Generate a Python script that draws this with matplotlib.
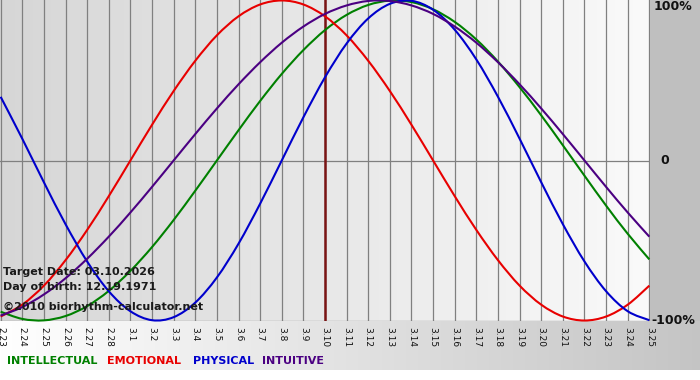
import numpy as np
import matplotlib
matplotlib.use("Agg")
import matplotlib.pyplot as plt
from matplotlib.path import Path
from matplotlib.patches import PathPatch

# days shown on the chart
days = ["2.23", "2.24", "2.25", "2.26", "2.27", "2.28",
        "3.1", "3.2", "3.3", "3.4", "3.5", "3.6", "3.7", "3.8", "3.9", "3.10",
        "3.11", "3.12", "3.13", "3.14", "3.15", "3.16", "3.17", "3.18", "3.19",
        "3.20", "3.21", "3.22", "3.23", "3.24", "3.25"]
target_day = "3.10"

# values, -1 .. 1
intellectual = [-0.945, -0.990, -0.999, -0.972, -0.910, -0.815, -0.690, -0.541, -0.372, -0.189,
                0.000, 0.189, 0.372, 0.541, 0.690, 0.815, 0.910, 0.972, 0.999, 0.990,
                0.945, 0.866, 0.756, 0.618, 0.458, 0.282, 0.095, -0.095, -0.282, -0.458, -0.618]
emotional = [-0.975, -0.901, -0.782, -0.623, -0.434, -0.223, 0.000, 0.223, 0.434, 0.623,
             0.782, 0.901, 0.975, 1.000, 0.975, 0.901, 0.782, 0.623, 0.434, 0.223,
             0.000, -0.223, -0.434, -0.623, -0.782, -0.901, -0.975, -1.000, -0.975, -0.901, -0.782]
physical = [0.398, 0.136, -0.136, -0.398, -0.631, -0.817, -0.942, -0.998, -0.979, -0.888,
            -0.731, -0.520, -0.270, 0.000, 0.270, 0.520, 0.731, 0.888, 0.979, 0.998,
            0.942, 0.817, 0.631, 0.398, 0.136, -0.136, -0.398, -0.631, -0.817, -0.942, -0.998]
intuitive = [-0.969, -0.916, -0.837, -0.736, -0.614, -0.476, -0.325, -0.165, 0.000, 0.165,
             0.325, 0.476, 0.614, 0.736, 0.837, 0.916, 0.969, 0.997, 0.997, 0.969,
             0.916, 0.837, 0.736, 0.614, 0.476, 0.325, 0.165, 0.000, -0.165, -0.325, -0.476]

series = [("INTELLECTUAL", intellectual, "#008000"),
          ("EMOTIONAL", emotional, "#e80000"),
          ("PHYSICAL", physical, "#0000cc"),
          ("INTUITIVE", intuitive, "#4b0082")]


def smooth_path(xs, ys):
    """Catmull-Rom style bezier path through the points (curve drawn smooth)"""
    pts = np.column_stack([xs, ys]).astype(float)
    verts = [pts[0]]
    codes = [Path.MOVETO]
    n = len(pts)
    for i in range(n - 1):
        p0 = pts[i - 1] if i > 0 else pts[i]
        p1, p2 = pts[i], pts[i + 1]
        p3 = pts[i + 2] if i + 2 < n else pts[i + 1]
        verts += [p1 + (p2 - p0) / 6, p2 - (p3 - p1) / 6, p2]
        codes += [Path.CURVE4] * 3
    return Path(verts, codes)


W, H = 700, 380
fig = plt.figure(figsize=(W / 100, H / 100), dpi=100)

# background: gradient plot area, grey right panel, gradient strip at the bottom
bg = np.ones((H, W, 3))
cols = np.arange(W) / (W - 1)
plot_w, plot_h, strip_h = 650, 321, 370
bg[:plot_h, :plot_w] = (0.84 + (0.98 - 0.84) * np.arange(plot_w) / (plot_w - 1))[None, :, None]
bg[:plot_h, plot_w:] = 0.75
bg[plot_h:strip_h, :] = (1.0 - (1.0 - 0.77) * cols)[None, :, None]
bax = fig.add_axes([0, 0, 1, 1])
bax.imshow(bg, aspect="auto", extent=(0, W, H, 0), interpolation="bilinear")
bax.set_xlim(0, W)
bax.set_ylim(H, 0)
bax.axis("off")

ax = fig.add_axes([0, 1 - plot_h / H, plot_w / W, plot_h / H])
ax.patch.set_alpha(0)
x = np.arange(len(days))
ax.set_xlim(-0.03, len(days) - 1 + 0.03)
ax.set_ylim(-1.003, 1.003)

for xi in x:
    ax.axvline(xi, color="#808080", lw=0.9, zorder=1)
ax.axhline(0, color="#808080", lw=0.9, zorder=1)
ax.axhline(-1.0, color="#808080", lw=0.9, zorder=1)

for name, vals, c in series:
    ax.add_patch(PathPatch(smooth_path(x, vals), facecolor="none", edgecolor=c,
                           lw=1.5, zorder=3, clip_on=False))

ax.axvline(days.index(target_day), color="#7a1414", lw=1.8, zorder=2)

for s in ax.spines.values():
    s.set_visible(False)
ax.set_yticks([])
ax.set_xticks(x, days, rotation=-90, fontsize=6.5, color="#111111")
ax.tick_params(axis="x", length=0, pad=4)
for lab in ax.get_xticklabels():
    lab.set_ha("center")
    lab.set_va("top")


def px_text(px, py, s, **kw):
    fig.text(px / W, 1 - py / H, s, va="center", **kw)


px_text(3, 272, "Target Date: 03.10.2026", fontsize=8, fontweight="bold", color="#1a1a1a")
px_text(3, 287, "Day of birth: 12.19.1971", fontsize=8, fontweight="bold", color="#1a1a1a")
px_text(3, 307, "\u00a92010 biorhythm-calculator.net", fontsize=8, fontweight="bold", color="#1a1a1a")

px_text(654, 7, "100%", fontsize=9, fontweight="bold", color="#111111")
px_text(660, 161, "0", fontsize=9, fontweight="bold", color="#111111")
px_text(651, 321, "-100%", fontsize=9, fontweight="bold", color="#111111")

legend_x = [7, 107, 193, 262]
for (name, vals, c), lx in zip(series, legend_x):
    px_text(lx, 361, name, fontsize=8, fontweight="bold", color=c)

fig.savefig("out.png", dpi=100)
